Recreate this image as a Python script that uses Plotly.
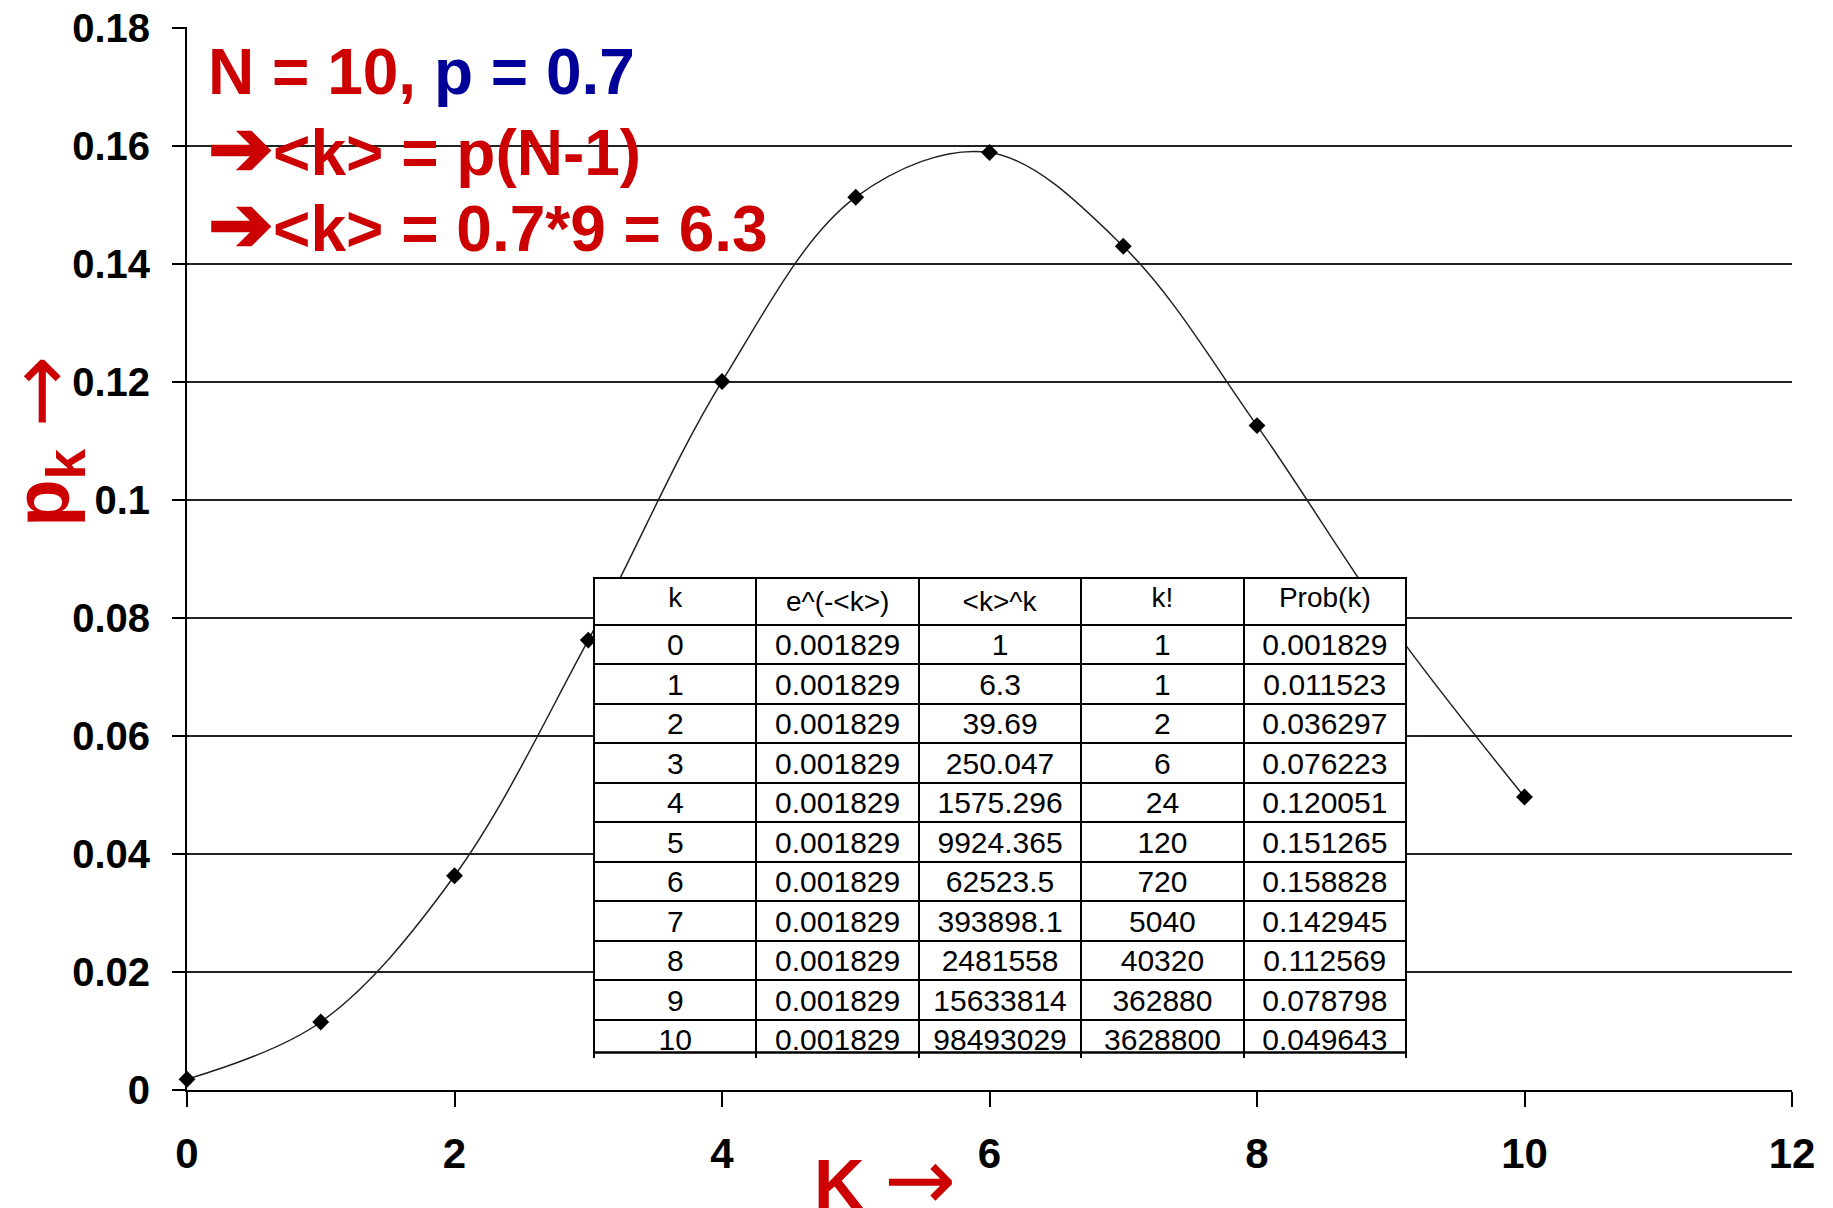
import plotly.graph_objects as go

k_vals = [0, 1, 2, 3, 4, 5, 6, 7, 8, 9, 10]
exp_mk = [0.001829] * 11
k_mean_pow = [1, 6.3, 39.69, 250.047, 1575.296, 9924.365, 62523.5, 393898.1, 2481558, 15633814, 98493029]
k_fact = [1, 1, 2, 6, 24, 120, 720, 5040, 40320, 362880, 3628800]
prob_k = [0.001829, 0.011523, 0.036297, 0.076223, 0.120051, 0.151265,
          0.158828, 0.142945, 0.112569, 0.078798, 0.049643]
table_headers = ["k", "e^(-&lt;k&gt;)", "&lt;k&gt;^k", "k!", "Prob(k)"]

x_ticks = [0, 2, 4, 6, 8, 10, 12]
y_ticks = [0, 0.02, 0.04, 0.06, 0.08, 0.1, 0.12, 0.14, 0.16, 0.18]
y_ticktext = ["0", "0.02", "0.04", "0.06", "0.08", "0.1", "0.12", "0.14", "0.16", "0.18"]

RED = "#cc0000"
BLUE = "#000099"
FONT = "Arial, Liberation Sans, sans-serif"
BIG_ARROW = "<span style='font-size:78px'>➔</span>"
THIN_ARROW = "<span style='font-family:DejaVu Sans;font-size:86px;font-weight:normal'>→</span>"

# plot area size in px (used for the table frame)
PLOT_H = 1063
HEADER_H = 40
ROW_H = 39.5
TABLE_TOP = 0.4817

fig = go.Figure()

# smoothed curve with diamond markers
fig.add_trace(go.Scatter(
    x=k_vals,
    y=prob_k,
    mode="lines+markers",
    line=dict(color="#222222", width=1.5, shape="spline", smoothing=1),
    marker=dict(symbol="diamond", size=13, color="black"),
    cliponaxis=False,
    showlegend=False,
))

# table of values (header font kept at 28 so the header row stays 40px)
fig.add_trace(go.Table(
    domain=dict(x=[0.2536, 0.7601], y=[0.03, TABLE_TOP]),
    columnwidth=[1, 1, 1, 1, 1],
    header=dict(
        values=table_headers,
        height=HEADER_H,
        align="center",
        fill_color="white",
        line=dict(color="black", width=2),
        font=dict(family=FONT, size=28, color="black"),
    ),
    cells=dict(
        values=[k_vals, exp_mk, k_mean_pow, k_fact, prob_k],
        height=ROW_H,
        align="center",
        fill_color="white",
        line=dict(color="black", width=2),
        font=dict(family=FONT, size=30, color="black"),
    ),
))

# white box behind the table (hides the gridlines around it)
fig.add_shape(type="rect", xref="paper", yref="paper",
              x0=0.248, x1=0.766, y0=0.026, y1=0.489,
              fillcolor="white", line=dict(width=0), layer="between")
# bottom border of the table (plotly clips it)
table_bottom = TABLE_TOP - (HEADER_H + len(k_vals) * ROW_H) / PLOT_H
fig.add_shape(type="line", xref="paper", yref="paper",
              x0=0.2536, x1=0.7601, y0=table_bottom, y1=table_bottom,
              line=dict(color="black", width=2.5), layer="above")

# top-left text
fig.add_annotation(
    xref="paper", yref="paper", x=0.012, y=0.958, xanchor="left", yanchor="middle",
    text=f"N = 10, <span style='color:{BLUE}'>p = 0.7</span>",
    showarrow=False, font=dict(family=FONT, size=64, color=RED, weight="bold"),
)
fig.add_annotation(
    xref="paper", yref="paper", x=0.012, y=0.886, xanchor="left", yanchor="middle",
    text=BIG_ARROW + "&lt;k&gt; = p(N-1)",
    showarrow=False, font=dict(family=FONT, size=64, color=RED, weight="bold"),
)
fig.add_annotation(
    xref="paper", yref="paper", x=0.012, y=0.815, xanchor="left", yanchor="middle",
    text=BIG_ARROW + "&lt;k&gt; = 0.7*9 = 6.3",
    showarrow=False, font=dict(family=FONT, size=64, color=RED, weight="bold"),
)

# axis titles
fig.add_annotation(
    xref="paper", yref="paper", x=-0.090, y=0.61, xanchor="center", yanchor="middle",
    textangle=-90,
    text="p<sub>k</sub> " + THIN_ARROW,
    showarrow=False, font=dict(family=FONT, size=78, color=RED, weight="bold"),
)
fig.add_annotation(
    xref="paper", yref="paper", x=0.4346, y=-0.0833, xanchor="center", yanchor="middle",
    text="K " + THIN_ARROW,
    showarrow=False, font=dict(family=FONT, size=70, color=RED, weight="bold"),
)

# page body has an 8px margin, so the figure is offset by 8px
fig.update_layout(
    width=1825,
    height=1200,
    margin=dict(l=179, r=41, t=19, b=118),
    plot_bgcolor="white",
    paper_bgcolor="white",
    showlegend=False,
    xaxis=dict(
        range=[0, 12],
        tickvals=x_ticks,
        ticks="outside",
        ticklen=15,
        tickwidth=1.5,
        tickcolor="black",
        showline=True,
        linecolor="black",
        linewidth=2,
        showgrid=False,
        zeroline=False,
        automargin=False,
        ticklabelstandoff=11,
        tickfont=dict(family=FONT, size=42, color="black", weight="bold"),
    ),
    yaxis=dict(
        range=[0, 0.1801],
        tickvals=y_ticks,
        ticktext=y_ticktext,
        ticks="outside",
        ticklen=13,
        tickwidth=1.5,
        tickcolor="black",
        showline=True,
        linecolor="black",
        linewidth=2,
        showgrid=True,
        gridcolor="#222222",
        gridwidth=1.5,
        zeroline=False,
        automargin=False,
        ticklabelstandoff=14,
        ticklabeloverflow="allow",
        tickfont=dict(family=FONT, size=40, color="black", weight="bold"),
    ),
)

fig.write_html("out.html")
